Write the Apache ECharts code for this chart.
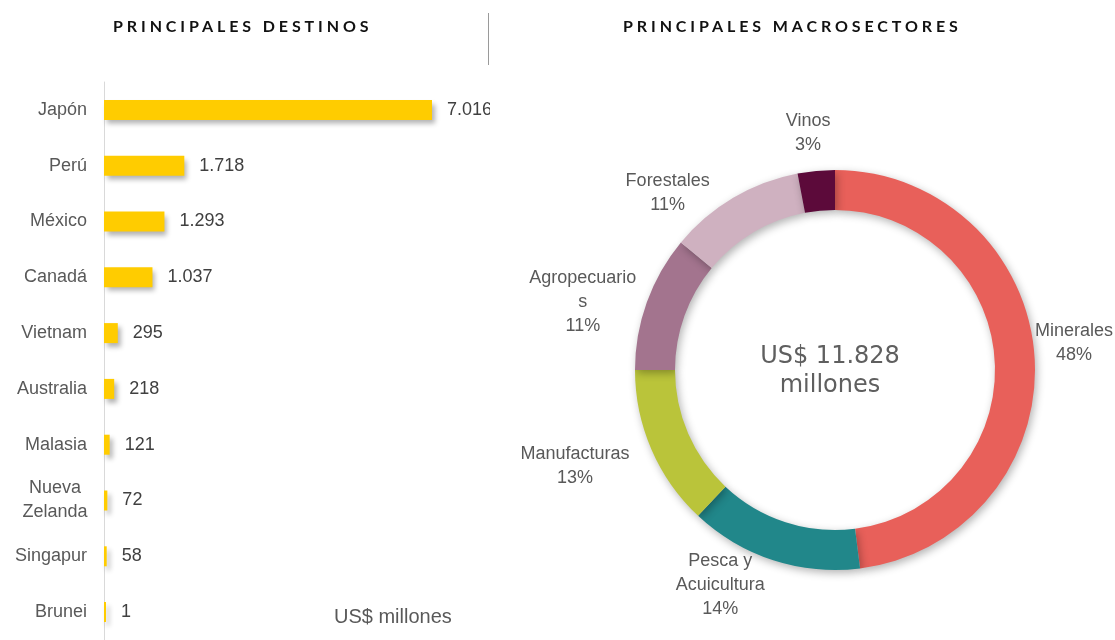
<!DOCTYPE html>
<html>
<head>
<meta charset="utf-8">
<script src="https://cdn.jsdelivr.net/npm/echarts@6/dist/echarts.min.js"></script>
<style>
  html, body { margin: 0; padding: 0; background: #fff; }
  #wrap { position: relative; width: 1115px; height: 640px; overflow: hidden; }
  .head {
    position: absolute; top: 16px; font-family: Lato, sans-serif; font-weight: bold;
    font-size: 16px; letter-spacing: 3.9px; color: #111; white-space: nowrap;
  }
  #divider { position: absolute; left: 488px; top: 13px; width: 1px; height: 52px; background: #9a9a9a; }
  #barChart { position: absolute; left: 0; top: 0; width: 490px; height: 640px; }
  #pieChart { position: absolute; left: 490px; top: 0; width: 625px; height: 640px; }
</style>
</head>
<body>
<div id="wrap">
  <div id="barChart"></div>
  <div id="pieChart"></div>
  <div class="head" style="left:113px">PRINCIPALES DESTINOS</div>
  <div id="divider"></div>
  <div class="head" style="left:623px">PRINCIPALES MACROSECTORES</div>
</div>
<script>
// destinos (US$ millones)
const destinos = ['Japón', 'Perú', 'México', 'Canadá', 'Vietnam', 'Australia', 'Malasia', 'Nueva Zelanda', 'Singapur', 'Brunei']
const montos = [7016, 1718, 1293, 1037, 295, 218, 121, 72, 58, 1]

// macrosectores (%)
const sectores = ['Minerales', 'Pesca y Acuicultura', 'Manufacturas', 'Agropecuarios', 'Forestales', 'Vinos']
const porcentajes = [48, 14, 13, 11, 11, 3]
const sectorColors = ['#E8605A', '#21878A', '#BAC43A', '#A3748E', '#CFB1C0', '#5C0A3A']

// como se cortan las etiquetas en el original
const etiquetas = {
  'Pesca y Acuicultura': ['Pesca y', 'Acuicultura'],
  Agropecuarios: ['Agropecuario', 's']
}
// largo de la guía (oculta) por sector: [length, length2]
const guias = [[0, 0], [26, 0], [20, 3], [0, 10], [6, 20], [38, -18]]
// ajuste vertical de la etiqueta: [arriba, abajo]
const rellenos = [[0, 28], [0, 0], [18, 0], [0, 0], [0, 0], [0, 0]]

const totalTexto = 'US$ 11.828\nmillones'
const unidadTexto = 'US$ millones'

const FONT = '"Liberation Sans", Arial, sans-serif'

const ctx = document.createElement('canvas').getContext('2d')
ctx.font = '18px ' + FONT
function textWidth(t) {
  return Math.ceil(ctx.measureText(t).width)
}

function miles(v) {
  return String(v).replace(/\B(?=(\d{3})+(?!\d))/g, '.')
}

function initBar() {
  const myChart = echarts.init(document.getElementById('barChart'))
  const option = {
    animation: false,
    grid: { left: 104, top: 82, width: 328, height: 564 },
    xAxis: { type: 'value', min: 0, max: 'dataMax', show: false },
    yAxis: {
      type: 'category',
      inverse: true,
      data: destinos,
      axisTick: { show: false },
      axisLine: { lineStyle: { color: '#d9d9d9', width: 1 } },
      axisLabel: {
        margin: 17,
        color: '#595959',
        fontFamily: FONT,
        fontSize: 18,
        formatter: (value) => {
          if (value.indexOf(' ') > 0) {
            return value.split(' ').map((w) => '{c|' + w + '}').join('\n')
          }
          return value
        },
        rich: {
          c: { width: 64, align: 'center', color: '#595959', fontFamily: FONT, fontSize: 18, lineHeight: 24 }
        }
      }
    },
    series: [
      {
        type: 'bar',
        data: montos,
        barWidth: 20,
        barMinHeight: 2,
        itemStyle: {
          color: '#FFCC00',
          shadowBlur: 5,
          shadowOffsetX: 3,
          shadowOffsetY: 4,
          shadowColor: 'rgba(0,0,0,0.3)'
        },
        label: {
          show: true,
          position: 'right',
          distance: 15,
          color: '#404040',
          fontFamily: FONT,
          fontSize: 18,
          formatter: (p) => miles(p.value)
        }
      }
    ],
    graphic: [
      {
        type: 'text',
        left: 334,
        top: 607,
        style: { text: unidadTexto, fill: '#595959', font: '20px ' + FONT }
      }
    ]
  }
  myChart.setOption(option, true)
}

function initPie() {
  const myChart = echarts.init(document.getElementById('pieChart'))
  const data = sectores.map((name, i) => ({
    name: name,
    value: porcentajes[i],
    itemStyle: { color: sectorColors[i] },
    label: { padding: [rellenos[i][0], 0, rellenos[i][1], 0] },
    labelLine: { show: false, length: guias[i][0], length2: guias[i][1] }
  }))
  const option = {
    animation: false,
    series: [
      {
        type: 'pie',
        center: [345, 370],
        radius: [160, 200],
        startAngle: 90,
        clockwise: true,
        avoidLabelOverlap: false,
        data: data,
        itemStyle: {
          shadowBlur: 8,
          shadowOffsetX: 2,
          shadowOffsetY: 3,
          shadowColor: 'rgba(0,0,0,0.3)'
        },
        label: {
          show: true,
          position: 'outside',
          distanceToLabelLine: 0,
          formatter: (p) => {
            const lines = (etiquetas[p.name] || [p.name]).concat([p.value + '%'])
            const w = Math.max(...lines.map(textWidth))
            return lines.map((l) => '{t' + w + '|' + l + '}').join('\n')
          },
          rich: {},
          color: '#595959',
          fontFamily: FONT,
          fontSize: 18,
          lineHeight: 24
        },
        labelLine: { show: false }
      }
    ],
    graphic: [
      {
        type: 'text',
        x: 340,
        y: 371,
        style: {
          text: totalTexto,
          fill: '#5f5f5f',
          font: '24px "DejaVu Sans", sans-serif',
          align: 'center',
          verticalAlign: 'middle',
          lineHeight: 29
        }
      }
    ]
  }
  // un estilo rich por ancho de etiqueta, para centrar cada línea
  sectores.forEach((name, i) => {
    const lines = (etiquetas[name] || [name]).concat([porcentajes[i] + '%'])
    const w = Math.max(...lines.map(textWidth))
    option.series[0].label.rich['t' + w] = {
      width: w, align: 'center', color: '#595959', fontFamily: FONT, fontSize: 18, lineHeight: 24
    }
  })
  myChart.setOption(option, true)
}

initBar()
initPie()
</script>
</body>
</html>
